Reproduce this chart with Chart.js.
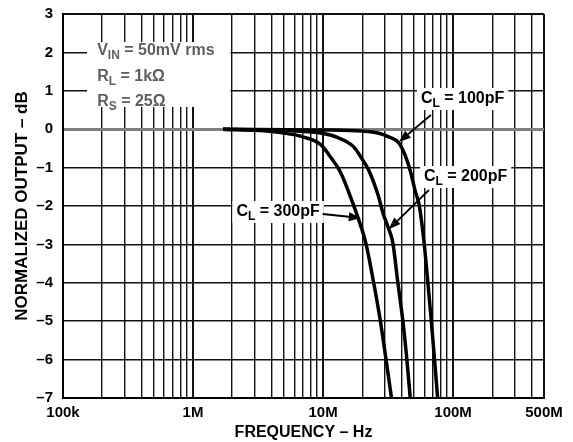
<!DOCTYPE html>
<html><head><meta charset="utf-8">
<script src="https://cdn.jsdelivr.net/npm/chart.js@4.4.1/dist/chart.umd.min.js"></script>
<style>html,body{margin:0;padding:0;background:#fff;}</style>
</head><body>
<canvas id="c" width="573" height="442"></canvas>
<script>
// ---- data ----
const freq100 = [1.7e6, 1e7, 2e7, 2.64e7, 3.2e7, 3.83e7, 4.3e7, 4.7e7, 5.1e7, 5.5e7, 6.0e7, 6.4e7, 6.8e7, 7.2e7, 7.6e7];
const db100   = [0, -0.02, -0.05, -0.1, -0.2, -0.36, -0.7, -1.1, -1.6, -2.0, -3.0, -4.0, -5.0, -6.0, -7.0];
const freq200 = [1.7e6, 5e6, 9.6e6, 1.3e7, 1.72e7, 2.0e7, 2.24e7, 2.64e7, 2.9e7, 3.2e7, 3.44e7, 3.76e7, 4.11e7, 4.41e7, 4.68e7];
const db200   = [0, -0.03, -0.1, -0.22, -0.46, -0.78, -1.06, -1.7, -2.2, -2.6, -2.96, -4.0, -5.0, -6.0, -7.0];
const freq300 = [1.7e6, 3e6, 5e6, 7e6, 9.6e6, 1.1e7, 1.37e7, 1.69e7, 1.88e7, 2.13e7, 2.45e7, 2.76e7, 3.05e7, 3.36e7];
const db300   = [0, -0.03, -0.1, -0.2, -0.4, -0.65, -1.14, -1.92, -2.36, -2.96, -4.0, -5.0, -6.0, -7.0];

const xTickValues = [1e5,2e5,3e5,4e5,5e5,6e5,7e5,8e5,9e5,
                     1e6,2e6,3e6,4e6,5e6,6e6,7e6,8e6,9e6,
                     1e7,2e7,3e7,4e7,5e7,6e7,7e7,8e7,9e7,
                     1e8,2e8,3e8,4e8,5e8];
const xTickLabels = {1e5:'100k', 1e6:'1M', 1e7:'10M', 1e8:'100M', 5e8:'500M'};
const yTickValues = [3,2,1,0,-1,-2,-3,-4,-5,-6,-7];

const seriesLabels = ['C_L = 100pF','C_L = 200pF','C_L = 300pF'];

// ---- annotation layout (data coordinates) ----
const FONT = '"Liberation Sans", Arial, Helvetica, sans-serif';
const noteLines = [
  [{t:'V'},{t:'IN',sub:true},{t:' = 50mV rms'}],
  [{t:'R'},{t:'L',sub:true},{t:' = 1kΩ'}],
  [{t:'R'},{t:'S',sub:true},{t:' = 25Ω'}]
];
const noteAnchor = {f:1.83e5, d:[2.04, 1.36, 0.71]};
const noteBox = {f0:1.53e5, f1:1.94e6, d0:2.27, d1:0.58};
const curveNotes = [
  {parts:[{t:'C'},{t:'L',sub:true},{t:' = 100pF'}], f:5.655e7, d:0.786,  from:[6.755e7,0.37],  to:[3.827e7,-0.333]},
  {parts:[{t:'C'},{t:'L',sub:true},{t:' = 200pF'}], f:5.966e7, d:-1.245, from:[6.52e7,-1.583], to:[3.2e7,-2.604]},
  {parts:[{t:'C'},{t:'L',sub:true},{t:' = 300pF'}], f:2.157e6, d:-2.156, from:[9.93e6,-2.208], to:[1.95e7,-2.313]}
];

function richWidth(ctx, parts, size){
  let w = 0;
  parts.forEach(p=>{
    const fs = p.sub ? Math.round(size*0.72) : size;
    ctx.font = `bold ${fs}px ${FONT}`;
    w += ctx.measureText(p.t).width;
  });
  return w;
}
function drawRich(ctx, parts, x, y, size, color){
  let cx = x;
  parts.forEach(p=>{
    const fs = p.sub ? Math.round(size*0.72) : size;
    ctx.font = `bold ${fs}px ${FONT}`;
    ctx.fillStyle = color; ctx.textBaseline = 'middle'; ctx.textAlign = 'left';
    ctx.fillText(p.t, cx, y + (p.sub ? size*0.32 : 0));
    cx += ctx.measureText(p.t).width;
  });
}

const annot = {
  id:'annot',
  beforeDatasetsDraw(chart){
    const {ctx, scales:{x, y}} = chart;
    ctx.save();
    ctx.fillStyle = '#fff';
    const bx0 = x.getPixelForValue(noteBox.f0), bx1 = x.getPixelForValue(noteBox.f1);
    const by0 = y.getPixelForValue(noteBox.d0), by1 = y.getPixelForValue(noteBox.d1);
    ctx.fillRect(bx0, by0, bx1-bx0, by1-by0);
    curveNotes.forEach(n=>{
      const px = x.getPixelForValue(n.f), py = y.getPixelForValue(n.d);
      const w = richWidth(ctx, n.parts, 16);
      ctx.fillStyle = '#fff';
      ctx.fillRect(px-4, py-11, w+8, 22);
    });
    noteLines.forEach((parts,i)=>{
      drawRich(ctx, parts, x.getPixelForValue(noteAnchor.f), y.getPixelForValue(noteAnchor.d[i]), 16, '#5e5e5e');
    });
    curveNotes.forEach(n=>{
      drawRich(ctx, n.parts, x.getPixelForValue(n.f), y.getPixelForValue(n.d), 16, '#000');
    });
    ctx.restore();
  },
  afterDatasetsDraw(chart){
    const {ctx, scales:{x, y}} = chart;
    ctx.save();
    ctx.strokeStyle = '#000'; ctx.fillStyle = '#000'; ctx.lineWidth = 1.8;
    curveNotes.forEach(n=>{
      const x0 = x.getPixelForValue(n.from[0]), y0 = y.getPixelForValue(n.from[1]);
      const x1 = x.getPixelForValue(n.to[0]),   y1 = y.getPixelForValue(n.to[1]);
      const a = Math.atan2(y1-y0, x1-x0), L = 12, H = 4.5;
      const bxp = x1 - L*Math.cos(a), byp = y1 - L*Math.sin(a);
      ctx.beginPath(); ctx.moveTo(x0,y0); ctx.lineTo(bxp,byp); ctx.stroke();
      ctx.beginPath();
      ctx.moveTo(x1,y1);
      ctx.lineTo(bxp + H*Math.sin(a), byp - H*Math.cos(a));
      ctx.lineTo(bxp - H*Math.sin(a), byp + H*Math.cos(a));
      ctx.closePath(); ctx.fill();
    });
    ctx.restore();
  }
};

const mk = (fs, ds, label) => ({
  label, data: fs.map((f,i)=>({x:f, y:ds[i]})),
  borderColor:'#000', borderWidth:3.5, pointRadius:0, fill:false,
  cubicInterpolationMode:'monotone'
});

Chart.defaults.font.family = FONT;
new Chart(document.getElementById('c'), {
  type:'line',
  data:{ datasets:[ mk(freq100, db100, seriesLabels[0]), mk(freq200, db200, seriesLabels[1]), mk(freq300, db300, seriesLabels[2]) ] },
  options:{
    responsive:false, animation:false, devicePixelRatio:1,
    layout:{padding:{left:0, top:14, right:29, bottom:0}},
    plugins:{legend:{display:false}, tooltip:{enabled:false}},
    scales:{
      x:{
        type:'logarithmic', min:1e5, max:5e8,
        afterBuildTicks(s){ s.ticks = xTickValues.map(v=>({value:v})); },
        afterFit(s){ s.height = 44; s.paddingLeft = 0; s.paddingRight = 0; },
        ticks:{autoSkip:false, maxRotation:0, padding:6, color:'#000',
               font:{size:15, weight:'bold'},
               callback:(v)=> xTickLabels[v] || ''},
        grid:{drawTicks:false, color:'#111',
              lineWidth:(c)=>{ const v=c.tick ? c.tick.value : 0; const e=Math.log10(v); return (Math.abs(e-Math.round(e))<1e-9 || v===5e8) ? 2 : 1.4; }},
        border:{display:true, color:'#000', width:2},
        title:{display:true, text:'FREQUENCY – Hz', color:'#000', font:{size:16, weight:'bold'}, padding:{top:0,bottom:0}}
      },
      y:{
        min:-7, max:3,
        afterBuildTicks(s){ s.ticks = yTickValues.map(v=>({value:v})); },
        afterFit(s){ s.width = 63; s.paddingTop = 0; s.paddingBottom = 0; },
        ticks:{padding:10, color:'#000', font:{size:15, weight:'bold'},
               callback:(v)=> v<0 ? '–'+Math.abs(v) : String(v)},
        grid:{drawTicks:false,
              color:(c)=> (c.tick && c.tick.value===0) ? '#808080' : '#111',
              lineWidth:(c)=>{ const v=c.tick ? c.tick.value : 1; return v===0 ? 3 : (v===3 ? 2 : 1.5); }},
        border:{display:true, color:'#000', width:2},
        title:{display:true, text:'NORMALIZED OUTPUT – dB', color:'#000', font:{size:17, weight:'bold'}, padding:{top:12,bottom:0}}
      }
    }
  },
  plugins:[annot]
});
</script>
</body></html>
